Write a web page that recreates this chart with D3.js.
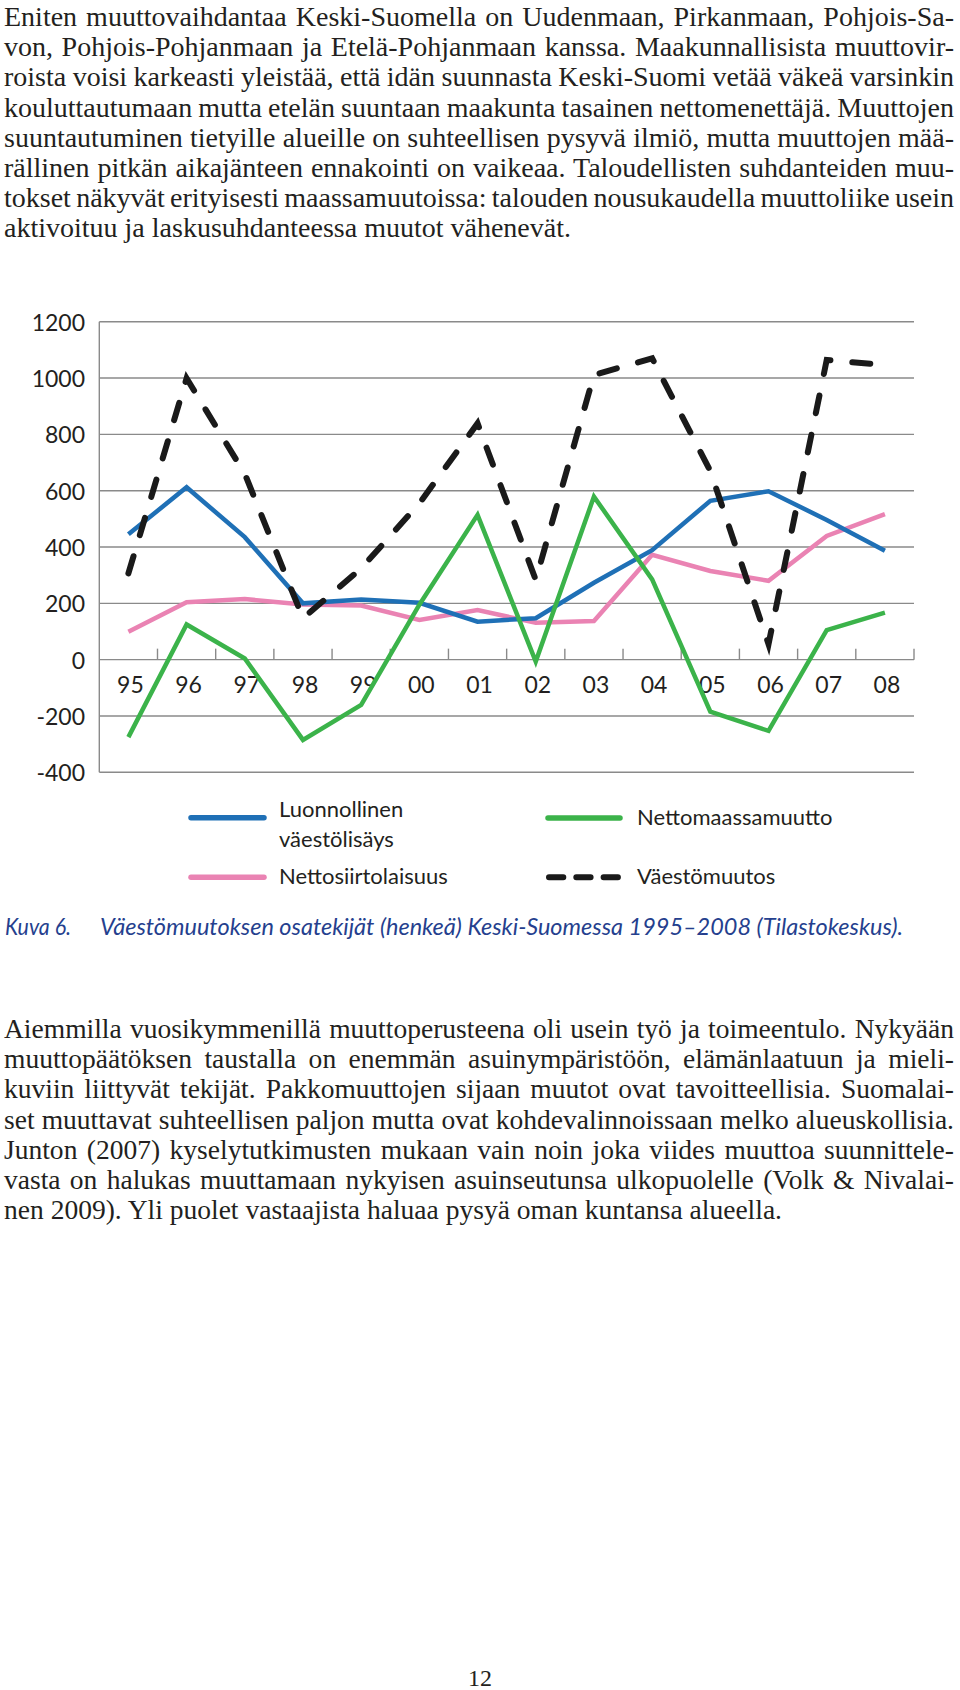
<!DOCTYPE html>
<html><head><meta charset="utf-8">
<script src="https://cdn.jsdelivr.net/npm/d3@7"></script>
<style>body{margin:0;background:#fff}</style>
</head><body>
<svg id="c" width="960" height="1690"></svg>
<script>
// ---- data ----
const years = ["95","96","97","98","99","00","01","02","03","04","05","06","07","08"];
const luonnollinen = [445, 612, 435, 200, 214, 202, 135, 147, 273, 389, 564, 598, 496, 387];
const nettosiirto  = [99, 204, 215, 196, 192, 141, 176, 131, 137, 372, 315, 280, 439, 517];
const nettomaassa  = [-275, 125, 4, -285, -161, 195, 514, -7, 579, 285, -185, -253, 105, 167];
const vaestomuutos = [306, 999, 660, 147, 324, 555, 839, 283, 1011, 1070, 670, 55, 1064, 1046];
const yTicks = [1200, 1000, 800, 600, 400, 200, 0, -200, -400];
const seriesNames = ["Luonnollinen väestölisäys", "Nettosiirtolaisuus", "Nettomaassamuutto", "Väestömuutos"];

const para1 = [
 "Eniten muuttovaihdantaa Keski-Suomella on Uudenmaan, Pirkanmaan, Pohjois-Sa-",
 "von, Pohjois-Pohjanmaan ja Etelä-Pohjanmaan kanssa. Maakunnallisista muuttovir-",
 "roista voisi karkeasti yleistää, että idän suunnasta Keski-Suomi vetää väkeä varsinkin",
 "kouluttautumaan mutta etelän suuntaan maakunta tasainen nettomenettäjä. Muuttojen",
 "suuntautuminen tietyille alueille on suhteellisen pysyvä ilmiö, mutta muuttojen mää-",
 "rällinen pitkän aikajänteen ennakointi on vaikeaa. Taloudellisten suhdanteiden muu-",
 "tokset näkyvät erityisesti maassamuutoissa: talouden nousukaudella muuttoliike usein",
 "aktivoituu ja laskusuhdanteessa muutot vähenevät."
];
const para2 = [
 "Aiemmilla vuosikymmenillä muuttoperusteena oli usein työ ja toimeentulo. Nykyään",
 "muuttopäätöksen taustalla on enemmän asuinympäristöön, elämänlaatuun ja mieli-",
 "kuviin liittyvät tekijät. Pakkomuuttojen sijaan muutot ovat tavoitteellisia. Suomalai-",
 "set muuttavat suhteellisen paljon mutta ovat kohdevalinnoissaan melko alueuskollisia.",
 "Junton (2007) kyselytutkimusten mukaan vain noin joka viides muuttoa suunnittele-",
 "vasta on halukas muuttamaan nykyisen asuinseutunsa ulkopuolelle (Volk & Nivalai-",
 "nen 2009). Yli puolet vastaajista haluaa pysyä oman kuntansa alueella."
];
const captionLabel = "Kuva 6.";
const captionText = "Väestömuutoksen osatekijät (henkeä) Keski-Suomessa 1995–2008 (Tilastokeskus).";
const pageNumber = "12";

// ---- drawing ----
const svg = d3.select("#c");
svg.append("rect").attr("width",960).attr("height",1690).attr("fill","#fff");

const serif = "'Liberation Serif','Times New Roman',serif";
const sans = "'Gill Sans',Lato,'Open Sans',sans-serif";
const ink = "#231f20";

function justify(lines, y0, step, lastWidth){
  // choose a size so the unjustified last line has its natural width
  const probe = svg.append("text").attr("font-family",serif).attr("font-size",24)
    .text(lines[lines.length-1]);
  let size = 24 * lastWidth / probe.node().getComputedTextLength();
  probe.remove();
  size = Math.max(22, Math.min(28, size));
  lines.forEach((line,i)=>{
    const t = svg.append("text").attr("x",4).attr("y",y0+i*step)
      .attr("font-family",serif).attr("font-size",size).attr("fill",ink).text(line);
    const target = i===lines.length-1 ? lastWidth : 950;
    const nat = t.node().getComputedTextLength();
    const spaces = (line.match(/ /g)||[]).length;
    if (spaces>0 && i<lines.length-1) t.style("word-spacing", ((target-nat)/spaces)+"px");
    if (i===lines.length-1 && spaces>0) t.style("word-spacing", ((target-nat)/spaces)+"px");
  });
}
justify(para1, 26, 30.2, 567);
justify(para2, 1038, 30.2, 778);

// chart
const x = d3.scaleBand().domain(years).range([99.3, 914]).padding(0);
const y = d3.scaleLinear().domain([-400, 1200]).range([772.3, 321.7]);
const g = svg.append("g");
const grid = "#8a8a8a";

g.selectAll("line.grid").data(yTicks).join("line")
  .attr("x1",99.3).attr("x2",914).attr("y1",d=>y(d)).attr("y2",d=>y(d))
  .attr("stroke",grid).attr("stroke-width",1.4);
g.append("line").attr("x1",99.3).attr("x2",99.3).attr("y1",y(1200)).attr("y2",y(-400))
  .attr("stroke",grid).attr("stroke-width",1.4);
const bounds = years.map(d=>x(d)+x.bandwidth());
g.selectAll("line.tk").data(bounds).join("line")
  .attr("x1",d=>d).attr("x2",d=>d).attr("y1",y(0)).attr("y2",y(0)-11)
  .attr("stroke",grid).attr("stroke-width",1.4);

g.selectAll("text.yl").data(yTicks).join("text")
  .attr("x",85).attr("y",d=>y(d)+9).attr("text-anchor","end")
  .attr("font-family",sans).attr("font-size",23).attr("fill",ink).text(d=>d);
g.selectAll("text.xl").data(years).join("text")
  .attr("x",d=>x(d)+x.bandwidth()/2+2).attr("y",693).attr("text-anchor","middle")
  .attr("font-family",sans).attr("font-size",23).attr("fill",ink).text(d=>d);

const cx = (d,i)=>x(years[i])+x.bandwidth()/2;
const line = d3.line().x((d,i)=>cx(d,i)).y(d=>y(d));
const colors = ["#1f70b6","#ea83b3","#3bb34a","#1a1a1a"];

g.append("path").datum(nettosiirto).attr("d",line).attr("fill","none")
  .attr("stroke",colors[1]).attr("stroke-width",4.5);
g.append("path").datum(luonnollinen).attr("d",line).attr("fill","none")
  .attr("stroke",colors[0]).attr("stroke-width",4.5);
g.append("path").datum(nettomaassa).attr("d",line).attr("fill","none")
  .attr("stroke",colors[2]).attr("stroke-width",4.5);
g.append("path").datum(vaestomuutos).attr("d",line).attr("fill","none")
  .attr("stroke",colors[3]).attr("stroke-width",6).attr("stroke-linecap","round")
  .attr("stroke-dasharray","18,22");

// legend
const leg = svg.append("g");
const legItems = [
  {c:colors[0], x1:191, x2:264, y:817.7, dash:null, lines:["Luonnollinen","väestölisäys"], tx:279, ty:817},
  {c:colors[1], x1:191, x2:264, y:877.3, dash:null, lines:["Nettosiirtolaisuus"], tx:279, ty:884},
  {c:colors[2], x1:548, x2:620, y:818, dash:null, lines:["Nettomaassamuutto"], tx:637, ty:825},
  {c:colors[3], x1:549, x2:618, y:877.3, dash:"14.3,13", lines:["Väestömuutos"], tx:637, ty:884}
];
legItems.forEach(it=>{
  const l = leg.append("line").attr("x1",it.x1).attr("x2",it.x2).attr("y1",it.y).attr("y2",it.y)
    .attr("stroke",it.c).attr("stroke-width",5.5).attr("stroke-linecap","round");
  if (it.dash) l.attr("stroke-dasharray",it.dash).attr("stroke-width",6);
  it.lines.forEach((s,k)=>{
    leg.append("text").attr("x",it.tx).attr("y",it.ty+k*29.5)
      .attr("font-family",sans).attr("font-size",22).attr("fill",ink).text(s);
  });
});

// caption
const cap = svg.append("g").attr("font-family",sans).attr("font-style","italic")
  .attr("font-size",23.5).attr("fill","#253f8e");
cap.append("text").attr("x",5).attr("y",935).attr("textLength",66)
  .attr("lengthAdjust","spacingAndGlyphs").text(captionLabel);
cap.append("text").attr("x",100).attr("y",935).attr("textLength",803)
  .attr("lengthAdjust","spacingAndGlyphs").text(captionText);

// page number
svg.append("text").attr("x",480).attr("y",1686).attr("text-anchor","middle")
  .attr("font-family",serif).attr("font-size",24).attr("fill",ink).text(pageNumber);
</script>
</body></html>
